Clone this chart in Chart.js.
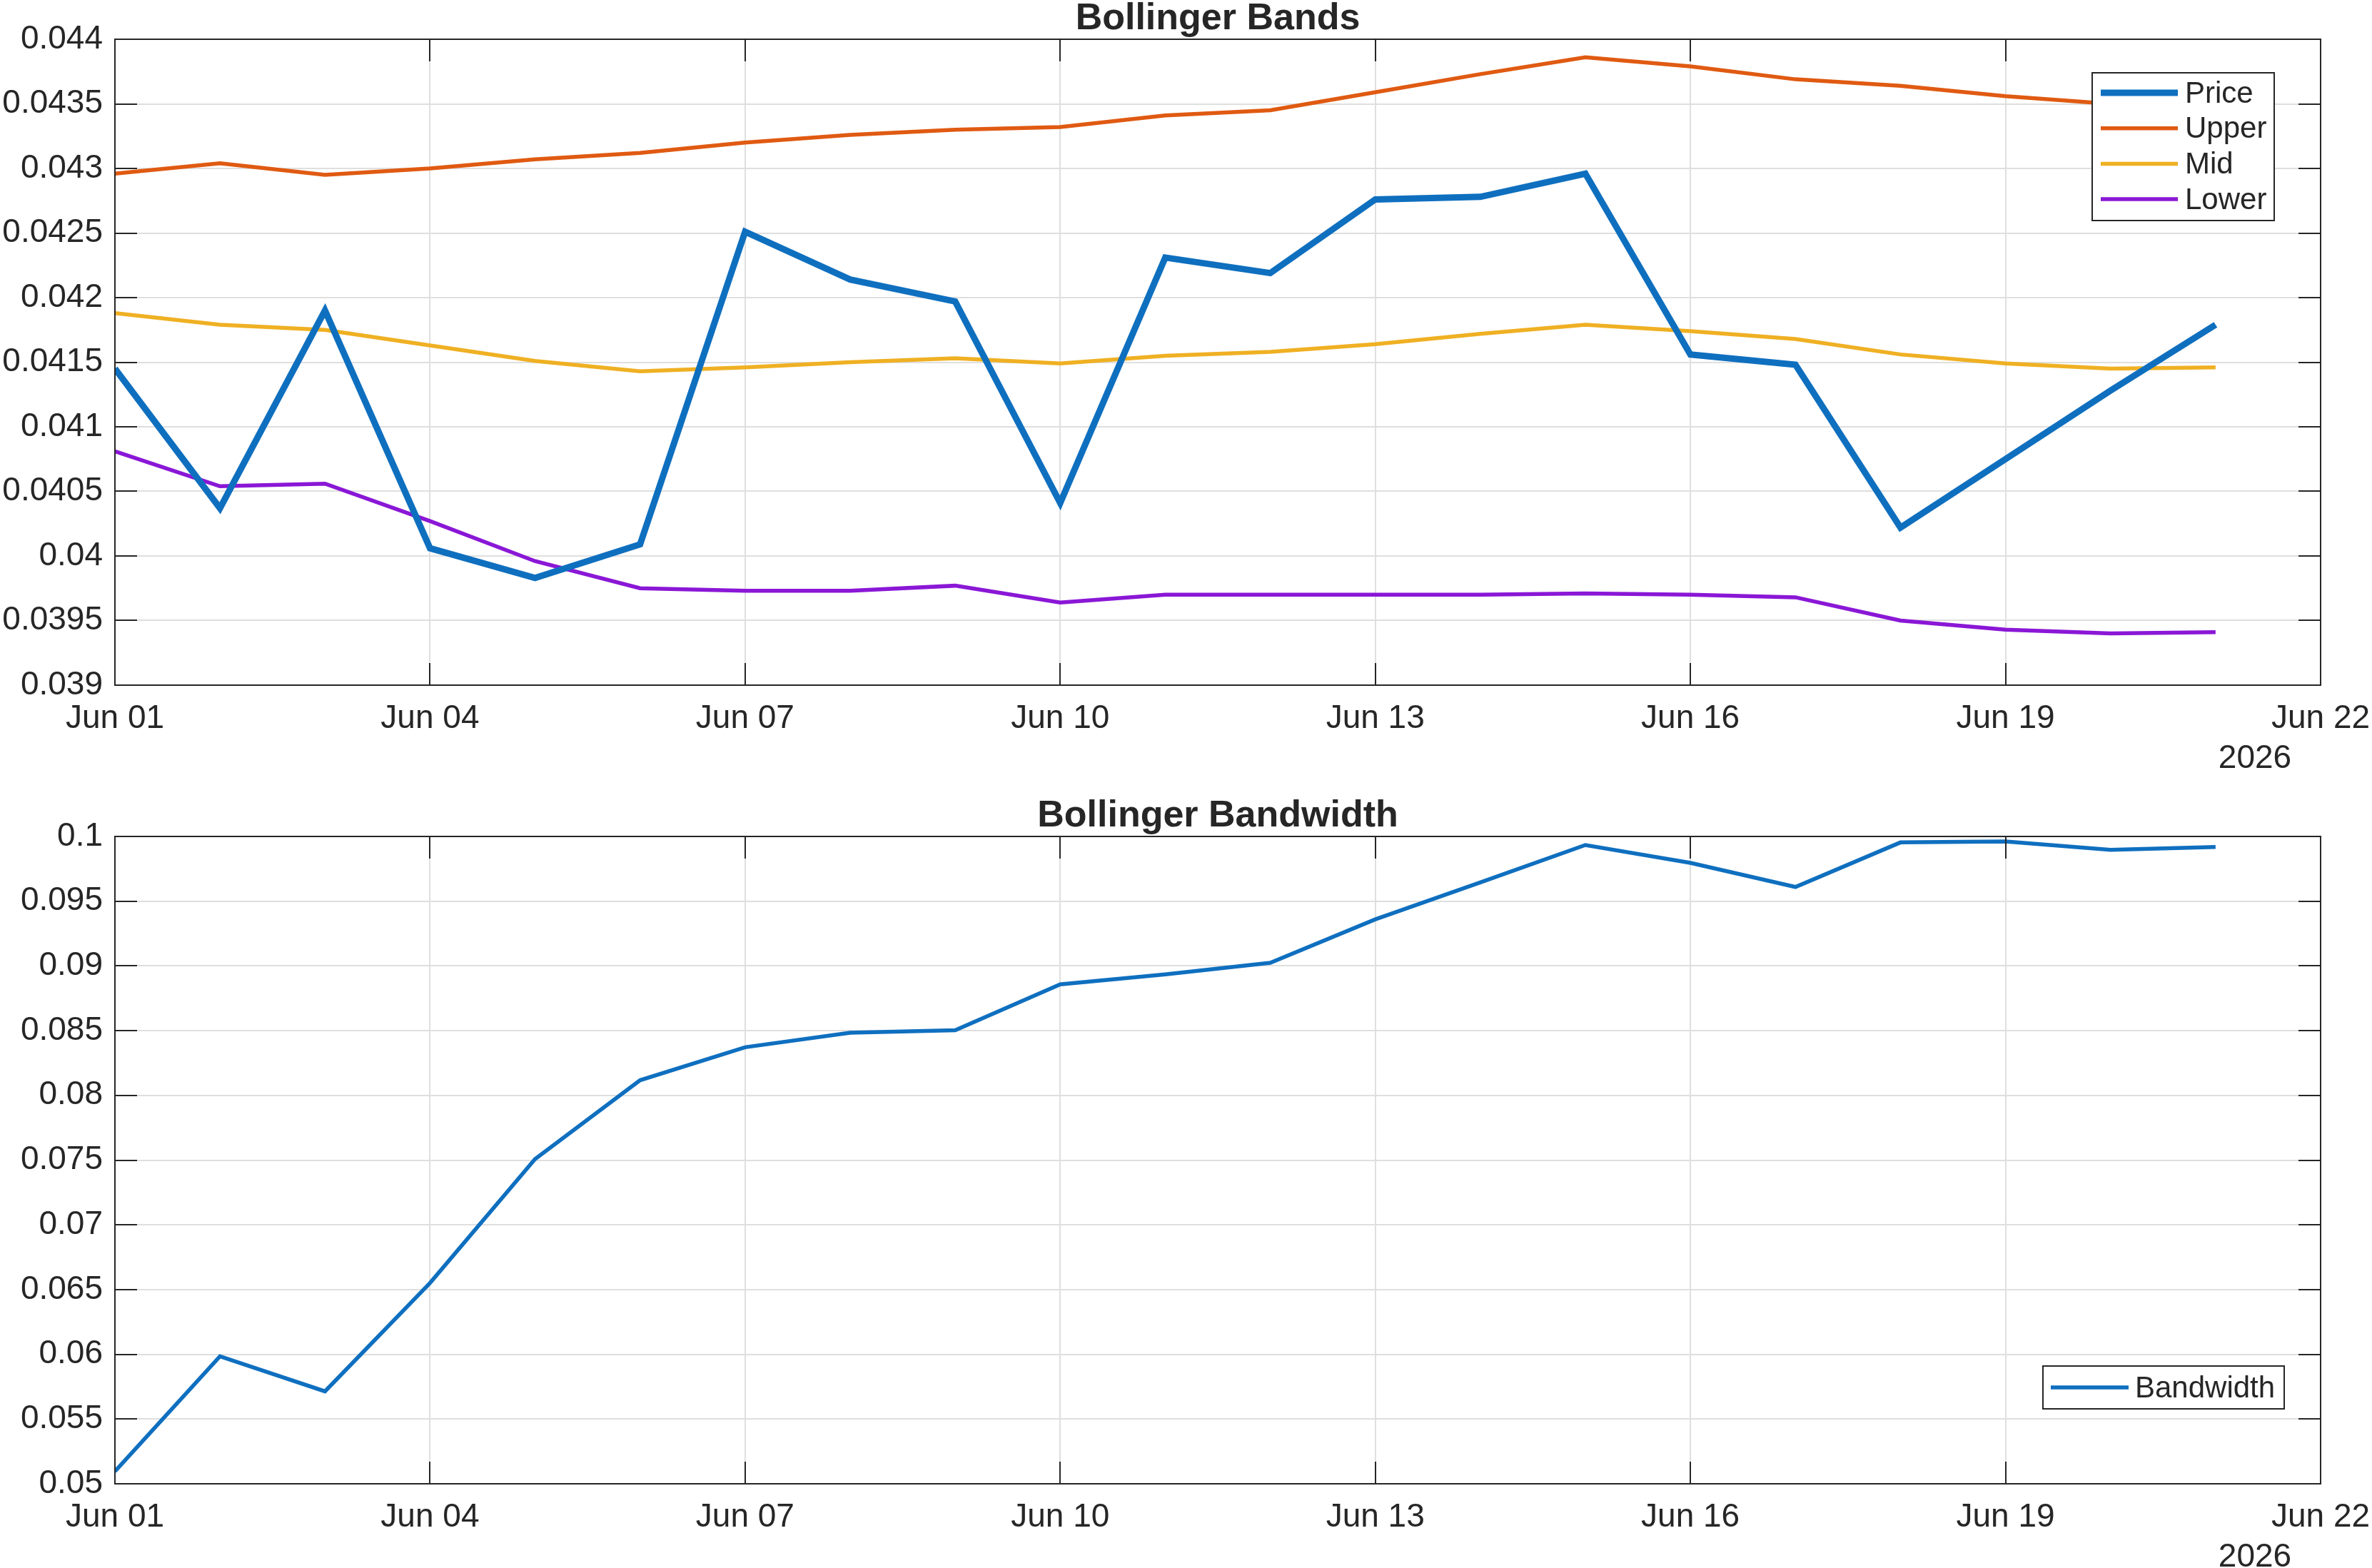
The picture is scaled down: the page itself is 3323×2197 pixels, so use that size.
<!DOCTYPE html>
<html>
<head>
<meta charset="utf-8">
<title>Bollinger Bands</title>
<script src="https://cdn.jsdelivr.net/npm/chart.js@4.4.1/dist/chart.umd.min.js"></script>
<style>
  html, body { margin: 0; padding: 0; background: #fff; }
  #wrap { position: relative; width: 3323px; height: 2197px; }
  canvas { position: absolute; left: 0; }
  #chartBands { top: 0; }
  #chartWidth { top: 1117px; }
</style>
</head>
<body>
<div id="wrap">
  <canvas id="chartBands" width="3323" height="1117"></canvas>
  <canvas id="chartWidth" width="3323" height="1080"></canvas>
</div>
<script>
'use strict';

// --- datos ---
const days = ['Jun 01', 'Jun 02', 'Jun 03', 'Jun 04', 'Jun 05', 'Jun 06', 'Jun 07',
  'Jun 08', 'Jun 09', 'Jun 10', 'Jun 11', 'Jun 12', 'Jun 13', 'Jun 14',
  'Jun 15', 'Jun 16', 'Jun 17', 'Jun 18', 'Jun 19', 'Jun 20', 'Jun 21'];
const xTickLabels = ['Jun 01', 'Jun 04', 'Jun 07', 'Jun 10', 'Jun 13', 'Jun 16', 'Jun 19', 'Jun 22'];
const yearLabel = '2026';

const price = [0.04145, 0.04037, 0.04190, 0.04006, 0.03983, 0.04009, 0.04251,
  0.04214, 0.04197, 0.04041, 0.04231, 0.04219, 0.04276, 0.04278,
  0.04296, 0.04156, 0.04148, 0.04022, 0.04075, 0.04128, 0.04179];
const upper = [0.04296, 0.04304, 0.04295, 0.04300, 0.04307, 0.04312, 0.04320,
  0.04326, 0.04330, 0.04332, 0.04341, 0.04345, 0.04359, 0.04373,
  0.04386, 0.04379, 0.04369, 0.04364, 0.04356, 0.04350, 0.04347];
const mid = [0.04188, 0.04179, 0.04175, 0.04163, 0.04151, 0.04143, 0.04146,
  0.04150, 0.04153, 0.04149, 0.04155, 0.04158, 0.04164, 0.04172,
  0.04179, 0.04174, 0.04168, 0.04156, 0.04149, 0.04145, 0.04146];
const lower = [0.04081, 0.04054, 0.04056, 0.04027, 0.03996, 0.03975, 0.03973,
  0.03973, 0.03977, 0.03964, 0.03970, 0.03970, 0.03970, 0.03970,
  0.03971, 0.03970, 0.03968, 0.03950, 0.03943, 0.03940, 0.03941];
const bandwidth = [0.05096, 0.05984, 0.05714, 0.06551, 0.07508, 0.08117, 0.08372,
  0.08484, 0.08503, 0.08858, 0.08935, 0.09024, 0.09360, 0.09645,
  0.09934, 0.09796, 0.09610, 0.09954, 0.09961, 0.09896, 0.09919];

// --- estilo ---
const FONT = "'Liberation Sans', Arial, Helvetica, sans-serif";
const INK = '#262626';
const GRID = '#dfdfdf';

Chart.defaults.font.family = FONT;
Chart.defaults.color = INK;

const toXY = arr => arr.map((v, i) => ({ x: i, y: v }));

// Caja de ejes estilo MATLAB, marcas hacia adentro y etiqueta del año
const matlabAxes = {
  id: 'matlabAxes',
  afterDraw(chart) {
    const { ctx, chartArea: a, scales: { x, y } } = chart;
    const len = 31;
    ctx.save();
    ctx.strokeStyle = INK;
    ctx.lineWidth = 2;
    ctx.strokeRect(a.left, a.top, a.right - a.left, a.bottom - a.top);
    ctx.beginPath();
    x.ticks.forEach(t => {
      const px = Math.round(x.getPixelForValue(t.value));
      ctx.moveTo(px, a.bottom); ctx.lineTo(px, a.bottom - len);
      ctx.moveTo(px, a.top); ctx.lineTo(px, a.top + len);
    });
    y.ticks.forEach(t => {
      const py = Math.round(y.getPixelForValue(t.value));
      ctx.moveTo(a.left, py); ctx.lineTo(a.left + len, py);
      ctx.moveTo(a.right, py); ctx.lineTo(a.right - len, py);
    });
    ctx.stroke();

    ctx.fillStyle = INK;
    ctx.font = '46px ' + FONT;
    ctx.textAlign = 'center';
    ctx.textBaseline = 'alphabetic';
    ctx.fillText(yearLabel, a.right - 92, a.bottom + 116);
    ctx.restore();
  }
};

// Leyenda dentro del área de trazado
const boxLegend = {
  id: 'boxLegend',
  afterDatasetsDraw(chart, args, opts) {
    const { ctx } = chart;
    const sets = chart.data.datasets;
    ctx.save();
    ctx.fillStyle = '#fff';
    ctx.fillRect(opts.left, opts.top, opts.width, opts.height);
    ctx.strokeStyle = INK;
    ctx.lineWidth = 2;
    ctx.strokeRect(opts.left, opts.top, opts.width, opts.height);
    ctx.font = '42px ' + FONT;
    ctx.textBaseline = 'middle';
    ctx.textAlign = 'left';
    sets.forEach((ds, i) => {
      const cy = opts.firstRow + i * opts.rowGap;
      ctx.strokeStyle = ds.borderColor;
      ctx.lineWidth = ds.borderWidth;
      ctx.beginPath();
      ctx.moveTo(opts.lineX0, cy);
      ctx.lineTo(opts.lineX1, cy);
      ctx.stroke();
      ctx.fillStyle = INK;
      ctx.fillText(ds.label, opts.textX, cy + 2);
    });
    ctx.restore();
  }
};

function yFormatter(digits) {
  return v => String(+Number(v).toFixed(digits));
}

function baseOptions(cfg) {
  return {
    responsive: false,
    animation: false,
    layout: { padding: { left: 0, right: 72, top: 0, bottom: 0 } },
    plugins: {
      legend: { display: false },
      tooltip: { enabled: false },
      title: {
        display: true,
        text: cfg.title,
        fullSize: false,
        color: INK,
        font: { size: 52, weight: 'bold', lineHeight: 0.82 },
        padding: { top: 5, bottom: 7.36 }
      },
      boxLegend: cfg.legend
    },
    elements: { point: { radius: 0 }, line: { tension: 0 } },
    scales: {
      x: {
        type: 'linear',
        min: 0,
        max: 21,
        afterFit: s => {
          s.height = cfg.xHeight;
          s.paddingLeft = 0;
          s.paddingRight = 0;
        },
        border: { display: false },
        grid: { color: GRID, lineWidth: 2, drawTicks: false },
        ticks: {
          stepSize: 3,
          autoSkip: false,
          maxRotation: 0,
          padding: 20,
          font: { size: 46 },
          callback: v => xTickLabels[Math.round(v / 3)]
        }
      },
      y: {
        min: cfg.yMin,
        max: cfg.yMax,
        afterFit: s => { s.width = 161; },
        border: { display: false },
        grid: { color: GRID, lineWidth: 2, drawTicks: false },
        ticks: {
          stepSize: cfg.yStep,
          padding: 17,
          font: { size: 46 },
          callback: yFormatter(cfg.digits)
        }
      }
    }
  };
}

new Chart(document.getElementById('chartBands'), {
  type: 'line',
  data: {
    datasets: [
      { label: 'Price', data: toXY(price), borderColor: '#0f6fbf', borderWidth: 9 },
      { label: 'Upper', data: toXY(upper), borderColor: '#e05a12', borderWidth: 5.5 },
      { label: 'Mid', data: toXY(mid), borderColor: '#efb023', borderWidth: 5.5 },
      { label: 'Lower', data: toXY(lower), borderColor: '#8a17d6', borderWidth: 5.5 }
    ]
  },
  options: baseOptions({
    title: 'Bollinger Bands',
    xHeight: 157,
    yMin: 0.039, yMax: 0.044, yStep: 0.0005, digits: 4,
    legend: { left: 2931, top: 102, width: 255, height: 207,
      firstRow: 130, rowGap: 49.7, lineX0: 2943, lineX1: 3051, textX: 3061 }
  }),
  plugins: [boxLegend, matlabAxes]
});

new Chart(document.getElementById('chartWidth'), {
  type: 'line',
  data: {
    datasets: [
      { label: 'Bandwidth', data: toXY(bandwidth), borderColor: '#0f6fbf', borderWidth: 5.5 }
    ]
  },
  options: baseOptions({
    title: 'Bollinger Bandwidth',
    xHeight: 118,
    yMin: 0.05, yMax: 0.1, yStep: 0.005, digits: 3,
    legend: { left: 2862, top: 797, width: 338, height: 60,
      firstRow: 827, rowGap: 0, lineX0: 2873, lineX1: 2982, textX: 2991 }
  }),
  plugins: [boxLegend, matlabAxes]
});
</script>
</body>
</html>
